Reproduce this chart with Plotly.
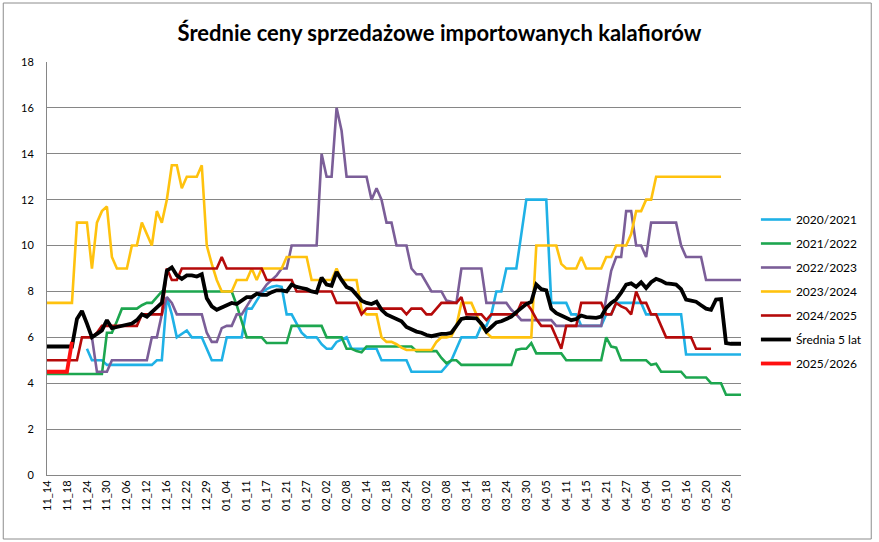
import plotly.graph_objects as go

tick_labels = ["11_14", "11_18", "11_24", "11_30", "12_06", "12_12", "12_16", "12_22", "12_29",
               "01_04", "01_11", "01_17", "01_21", "01_27", "02_02", "02_08", "02_14", "02_18",
               "02_24", "03_02", "03_08", "03_14", "03_18", "03_24", "03_30", "04_05", "04_11",
               "04_15", "04_21", "04_27", "05_04", "05_10", "05_16", "05_20", "05_26"]
points_per_label = 4

s2020 = [None, None, None, None, None, None, None, None,
         5.5, 5.0, 5.0, 5.0, 4.8, 4.8, 4.8, 4.8, 4.8, 4.8, 4.8, 4.8, 4.8, 4.8, 5.0, 5.0,
         7.75, 7.0, 6.0, 6.15, 6.3, 6.0, 6.0, 6.0, 5.5, 5.0, 5.0,
         5.0, 6.0, 6.0, 6.0, 6.0, 7.25, 7.25, 7.6, 7.95, 8.1, 8.2, 8.25, 8.2, 7.0, 7.0,
         6.6, 6.2, 6.0, 6.0, 6.0, 5.7, 5.5, 5.5, 5.8, 5.9, 6.0, 5.5, 5.5, 5.5, 5.5, 5.5, 5.5,
         5.0, 5.0, 5.0,
         5.0, 5.0, 5.0, 4.5, 4.5, 4.5, 4.5, 4.5, 4.5, 4.5, 4.75, 5.0, 5.5, 6.0, 6.0, 6.0, 6.0,
         6.5, 6.5, 7.0, 8.0, 8.0, 9.0, 9.0, 9.0, 10.5, 12.0, 12.0, 12.0, 12.0, 12.0,
         7.5, 7.5, 7.5, 7.5,
         7.0, 7.0, 6.5, 6.5, 6.5, 6.5, 6.5, 7.0, 7.0, 7.5, 7.5, 7.5, 7.5, 7.5, 7.5,
         7.0, 7.0, 7.0, 7.0, 7.0, 7.0, 7.0, 7.0,
         5.25, 5.25, 5.25, 5.25, 5.25, 5.25, 5.25, 5.25, 5.25, 5.25, 5.25, 5.25]

s2021 = [4.4, 4.4, 4.4, 4.4, 4.4, 4.4, 4.4, 4.4, 4.4, 4.4, 4.4, 4.4,
         6.2, 6.2, 6.7, 7.25, 7.25, 7.25, 7.25, 7.4, 7.5, 7.5, 7.75,
         8.0, 8.0, 8.0, 8.0, 8.0, 8.0, 8.0, 8.0, 8.0, 8.0, 8.0, 8.0,
         8.0, 8.0, 8.0, 7.4, 6.7, 6.0, 6.0, 6.0, 6.0, 5.75, 5.75, 5.75, 5.75, 5.75,
         6.5, 6.5, 6.5, 6.5, 6.5, 6.5, 6.5, 6.0, 6.0, 6.0, 6.0, 5.5, 5.5, 5.4, 5.35,
         5.6, 5.6, 5.6, 5.6, 5.6, 5.6,
         5.6, 5.6, 5.6, 5.6, 5.4, 5.4, 5.4, 5.4, 5.4, 5.1, 4.87, 5.0, 5.0,
         4.8, 4.8, 4.8, 4.8, 4.8, 4.8, 4.8, 4.8, 4.8, 4.8, 4.8,
         5.45, 5.5, 5.5, 5.75, 5.3, 5.3, 5.3, 5.3, 5.3, 5.3, 5.0,
         5.0, 5.0, 5.0, 5.0, 5.0, 5.0, 5.0, 6.0, 5.6, 5.55, 5.0, 5.0, 5.0, 5.0, 5.0, 5.0,
         4.8, 4.85, 4.5, 4.5, 4.5, 4.5, 4.5, 4.25, 4.25, 4.25, 4.25, 4.25,
         4.0, 4.0, 4.0, 3.5, 3.5, 3.5, 3.5]

s2022 = [None, None, None, None, None, None, None, None, None,
         6.0, 4.5, 4.5, 4.5, 5.0, 5.0, 5.0, 5.0, 5.0, 5.0, 5.0, 5.0, 6.0, 6.0,
         7.0, 7.75, 7.5, 7.0, 7.0, 7.0, 7.0, 7.0, 7.0, 6.2, 5.8, 5.8,
         6.4, 6.5, 6.5, 7.0, 7.0, 7.35, 7.7, 7.9, 8.0, 8.3, 8.5, 8.7, 9.0, 9.0,
         10.0, 10.0, 10.0, 10.0, 10.0, 10.0, 14.0, 13.0, 13.0, 16.0, 15.0,
         13.0, 13.0, 13.0, 13.0, 13.0, 12.0, 12.5, 12.0, 11.0, 11.0,
         10.0, 10.0, 10.0, 9.0, 8.75, 8.75, 8.4, 8.0, 8.0, 8.0, 7.6, 7.55, 7.5,
         9.0, 9.0, 9.0, 9.0, 9.0, 7.5, 7.5, 7.5, 7.5, 7.5, 7.2, 7.0,
         6.75, 6.75, 6.75, 6.75, 6.75, 6.75, 6.75, 6.5, 6.5, 6.5,
         6.5, 6.5, 6.5, 6.5, 6.5, 6.5, 6.5, 7.7, 8.9, 9.5, 9.5, 11.5, 11.5, 10.0, 10.0, 9.5,
         11.0, 11.0, 11.0, 11.0, 11.0, 11.0, 10.0, 9.5, 9.5, 9.5, 9.5,
         8.5, 8.5, 8.5, 8.5, 8.5, 8.5, 8.5, 8.5]

s2023 = [7.5, 7.5, 7.5, 7.5, 7.5, 7.5,
         11.0, 11.0, 11.0, 9.0, 11.0, 11.5, 11.7, 9.5, 9.0, 9.0, 9.0, 10.0, 10.0, 11.0, 10.5,
         10.0, 11.5, 11.0, 12.0, 13.5, 13.5, 12.5, 13.0, 13.0, 13.0, 13.5, 10.0, 9.2, 8.5,
         8.0, 8.0, 8.0, 8.5, 8.5, 8.5, 9.0, 8.5, 9.0, 9.0, 9.0, 9.0, 9.0, 9.5, 9.5, 9.5, 9.5,
         9.5, 8.5, 8.5, 8.5, 8.5, 8.5, 9.0, 8.5, 8.5, 8.5, 8.5, 7.2, 7.0, 7.0, 7.0, 6.0, 5.8, 5.8,
         5.7, 5.55, 5.45, 5.45, 5.45, 5.45, 5.45, 5.45, 5.8, 6.0, 6.0, 6.05, 6.5, 7.5, 7.5, 7.5,
         7.0, 6.5, 6.2, 6.0, 6.0, 6.0, 6.0, 6.0, 6.0, 6.0, 6.0, 6.0,
         10.0, 10.0, 10.0, 10.0, 10.0, 9.2, 9.0,
         9.0, 9.0, 9.5, 9.0, 9.0, 9.0, 9.0, 9.5, 9.5, 10.0, 10.0, 10.0, 10.5, 11.5, 11.5,
         12.0, 12.0, 13.0, 13.0, 13.0, 13.0, 13.0, 13.0, 13.0, 13.0, 13.0, 13.0, 13.0, 13.0,
         13.0, 13.0, None, None, None, None]

s2024 = [5.0, 5.0, 5.0, 5.0, 5.0, 5.0, 5.0, 6.0, 6.0, 6.0, 6.2,
         6.5, 6.5, 6.5, 6.5, 6.5, 6.5, 6.5, 6.5, 7.0, 7.0, 7.0, 7.0, 7.0,
         9.0, 8.5, 8.5, 9.0, 9.0, 9.0, 9.0, 9.0, 9.0, 9.0, 9.0,
         9.5, 9.0, 9.0, 9.0, 9.0, 9.0, 9.0, 9.0, 9.0, 8.5, 8.5, 8.5, 8.5, 8.5, 8.5,
         8.0, 8.0, 8.0, 8.0, 8.0, 8.0, 8.0, 8.0, 7.5, 7.5, 7.5, 7.5, 7.5, 7.0,
         7.25, 7.25, 7.25, 7.25, 7.25, 7.25,
         7.25, 7.25, 7.0, 7.25, 7.25, 7.25, 7.0, 7.0, 7.25, 7.5, 7.5, 7.5, 7.5, 7.75,
         7.0, 7.0, 7.0, 7.0, 6.75, 7.0, 7.0, 7.0, 7.0, 7.0, 7.0, 7.5, 7.5, 7.2, 6.8,
         6.5, 6.5, 6.5, 6.0, 5.5, 6.5,
         6.5, 6.5, 7.5, 7.5, 7.5, 7.5, 7.5, 7.0, 7.0, 7.5, 7.35, 7.25, 7.0, 8.0, 7.5, 7.5,
         7.0, 7.0, 6.5, 6.0, 6.0, 6.0, 6.0, 6.0, 6.0, 5.5, 5.5, 5.5, 5.5,
         None, None, None, None, None, None]

avg5 = [5.6, 5.6, 5.6, 5.6, 5.6, 5.6,
        6.8, 7.15, 6.6, 6.0, 6.15, 6.3, 6.75, 6.4, 6.45, 6.5, 6.55, 6.6, 6.75, 7.0, 6.9, 7.1,
        7.3, 7.5, 8.9, 9.05, 8.7, 8.55, 8.7, 8.7, 8.65, 8.75, 7.7, 7.35, 7.2,
        7.3, 7.4, 7.5, 7.45, 7.6, 7.75, 7.75, 7.9, 7.85, 7.85, 7.97, 8.05, 8.05, 8.0, 8.3,
        8.2, 8.15, 8.1, 8.0, 7.95, 8.6, 8.3, 8.25, 8.85, 8.5, 8.2, 8.1, 7.85, 7.6, 7.5, 7.45,
        7.55, 7.2, 7.0, 6.9,
        6.8, 6.7, 6.45, 6.35, 6.25, 6.2, 6.1, 6.05, 6.1, 6.15, 6.15, 6.2, 6.5, 6.8, 6.85,
        6.85, 6.83, 6.6, 6.25, 6.45, 6.65, 6.7, 6.8, 6.9, 7.1, 7.3, 7.45, 7.55, 8.3, 8.1,
        8.05, 7.25, 7.05, 6.95, 6.85,
        6.75, 6.8, 6.95, 6.88, 6.85, 6.85, 6.9, 7.28, 7.5, 7.65, 7.95, 8.3, 8.35, 8.2, 8.4,
        8.15, 8.4, 8.55, 8.47, 8.35, 8.33, 8.3, 8.1, 7.65, 7.6, 7.55, 7.4, 7.25, 7.2, 7.65,
        7.67, 5.75, 5.72, 5.72, 5.72]

s2025 = [4.5, 4.5, 4.5, 4.5, 4.5, 5.8]

series = [
    ("2020/2021", s2020, "#1FB1E6", 2.6),
    ("2021/2022", s2021, "#1DA64F", 2.6),
    ("2022/2023", s2022, "#7B5E98", 2.6),
    ("2023/2024", s2023, "#FFC20E", 2.6),
    ("2024/2025", s2024, "#B50A0A", 2.6),
    ("Średnia 5 lat", avg5, "#000000", 3.8),
    ("2025/2026", s2025, "#FF1010", 3.8),
]

FONT = "Lato, 'Open Sans', sans-serif"

fig = go.Figure()
for i, (name, vals, color, width) in enumerate(series):
    fig.add_trace(go.Scatter(
        x=list(range(len(vals))), y=vals, name=name, mode="lines",
        line=dict(color=color, width=width), connectgaps=False,
        legendgroup=f"g{i}", cliponaxis=False,
    ))

tickvals = [k * points_per_label for k in range(len(tick_labels))]

W, H = 879, 542
L, R, T, B = 47, 134, 62, 67
pw, ph = W - L - R, H - T - B

fig.update_layout(
    width=W, height=H,
    margin=dict(l=L, r=R, t=T, b=B),
    paper_bgcolor="white", plot_bgcolor="white",
    font=dict(family=FONT, size=11, color="#000000"),
    title=dict(text="<b>Średnie ceny sprzedażowe importowanych kalafiorów</b>",
               x=0.5, xanchor="center", y=1 - 33 / H, yanchor="middle",
               font=dict(family=FONT, size=22, color="#000000")),
    xaxis=dict(range=[0, 139], tickmode="array", tickvals=tickvals, ticktext=tick_labels,
               tickangle=-90, showgrid=False, zeroline=False, showline=True,
               linecolor="#868686", linewidth=1, ticks="", tickfont=dict(size=11)),
    yaxis=dict(range=[0, 18], dtick=2, showgrid=True, gridcolor="#868686", gridwidth=1,
               zeroline=False, showline=True, linecolor="#868686", linewidth=1,
               ticks="", tickfont=dict(size=11), ticklabelstandoff=10),
    legend=dict(x=(760 - L) / pw, xanchor="left", y=(H - B - 205) / ph, yanchor="top",
                bgcolor="rgba(0,0,0,0)", font=dict(size=12), tracegroupgap=5,
                itemwidth=30),
    showlegend=True,
)

fig.add_shape(type="rect", xref="paper", yref="paper",
              x0=(3 - L) / pw, x1=(876 - L) / pw,
              y0=(H - B - 539) / ph, y1=(H - B - 3) / ph,
              line=dict(color="#8c8c8c", width=1), fillcolor="rgba(0,0,0,0)", layer="below")

fig.write_html("out.html")
